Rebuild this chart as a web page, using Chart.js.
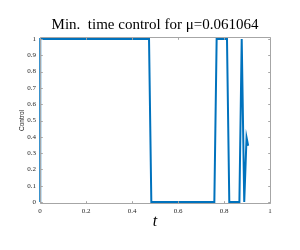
<!DOCTYPE html>
<html>
<head>
<meta charset="utf-8">
<script src="https://cdn.jsdelivr.net/npm/chart.js@4"></script>
<style>
  body { margin: 0; background: #fff; }
  #wrap { width: 300px; height: 250px; }
</style>
</head>
<body>
<div id="wrap"><canvas id="myChart"></canvas></div>
<script>
// control signal (t, u)
const tValues = [0, 0.001, 0.474, 0.484, 0.758, 0.768, 0.813, 0.823, 0.867, 0.877, 0.888, 0.898, 0.905];
const uValues = [0, 1, 1, 0, 0, 1, 1, 0, 0, 1, 0, 0.396, 0.345];

const xTicks = [0, 0.2, 0.4, 0.6, 0.8, 1];
const yTicks = [0, 0.1, 0.2, 0.3, 0.4, 0.5, 0.6, 0.7, 0.8, 0.9, 1];

const titleText = 'Min.  time control for \u03bc=0.061064';

let points = [];
tValues.forEach((t, i) => {
  points.push({ x: t, y: uValues[i] });
});

// matlab style box + inward ticks
const boxTicks = {
  id: 'boxTicks',
  afterDatasetsDraw(chart) {
    const ctx = chart.ctx;
    const a = chart.chartArea;
    const xs = chart.scales.x, ys = chart.scales.y;
    const len = 2.3;
    ctx.save();
    ctx.strokeStyle = '#a6a6a6';
    ctx.lineWidth = 1;
    ctx.beginPath();
    ctx.rect(a.left + 0.5, a.top - 1.5, a.right - a.left, a.bottom - a.top + 3);
    xTicks.forEach(v => {
      let px = Math.round(xs.getPixelForValue(v)) + 0.5;
      ctx.moveTo(px, a.bottom + 1.5); ctx.lineTo(px, a.bottom + 1.5 - len);
      ctx.moveTo(px, a.top - 1.5); ctx.lineTo(px, a.top - 1.5 + len);
    });
    yTicks.forEach(v => {
      let py = Math.round(ys.getPixelForValue(v)) + 0.5;
      ctx.moveTo(a.left + 0.5, py); ctx.lineTo(a.left + 0.5 + len, py);
      ctx.moveTo(a.right + 0.5, py); ctx.lineTo(a.right + 0.5 - len, py);
    });
    ctx.stroke();
    ctx.restore();
  }
};

var ctx = document.getElementById('myChart').getContext('2d');

var myChart = new Chart(ctx, {
  type: 'line',
  data: {
    datasets: [{
      data: points,
      borderColor: '#0072BD',
      borderWidth: 2,
      pointRadius: 0,
      tension: 0,
      fill: false,
      clip: false
    }]
  },
  options: {
    responsive: true,
    maintainAspectRatio: false,
    animation: false,
    layout: { padding: { left: 26, right: 16, top: 0, bottom: 0 } },
    plugins: {
      legend: { display: false },
      tooltip: { enabled: false },
      title: {
        display: true,
        text: titleText,
        color: '#000',
        font: { family: 'Liberation Serif', size: 15, weight: 'normal' },
        padding: { top: 15.8, bottom: 5.2 }
      }
    },
    scales: {
      x: {
        type: 'linear',
        min: 0, max: 1,
        afterFit: s => { s.height = 48; },
        afterBuildTicks: s => { s.ticks = xTicks.map(v => ({ value: v })); },
        grid: { display: false, drawTicks: false },
        border: { display: false },
        ticks: {
          color: '#262626',
          padding: 5,
          maxRotation: 0,
          font: { family: 'Liberation Serif', size: 7 },
          callback: v => String(Math.round(v * 10) / 10)
        },
        title: {
          display: true,
          text: 't',
          color: '#000',
          font: { family: 'Liberation Serif', size: 16, style: 'italic' },
          padding: { top: 0, bottom: 18.4 }
        }
      },
      y: {
        min: 0, max: 1,
        afterFit: s => { s.width = 14; },
        afterBuildTicks: s => { s.ticks = yTicks.map(v => ({ value: v })); },
        grid: { display: false, drawTicks: false },
        border: { display: false },
        ticks: {
          color: '#262626',
          padding: 4,
          font: { family: 'Liberation Serif', size: 7 },
          callback: v => String(Math.round(v * 10) / 10)
        },
        title: {
          display: true,
          text: 'Control',
          color: '#222',
          font: { family: 'Liberation Sans', size: 6.5 },
          padding: { top: -7.9, bottom: 0 }
        }
      },
      // empty right axis so the title centres over the plot
      yRight: {
        position: 'right',
        min: 0, max: 1,
        afterFit: s => { s.width = 14; },
        grid: { display: false, drawTicks: false },
        border: { display: false },
        ticks: { display: false }
      }
    }
  },
  plugins: [boxTicks]
});
</script>
</body>
</html>
